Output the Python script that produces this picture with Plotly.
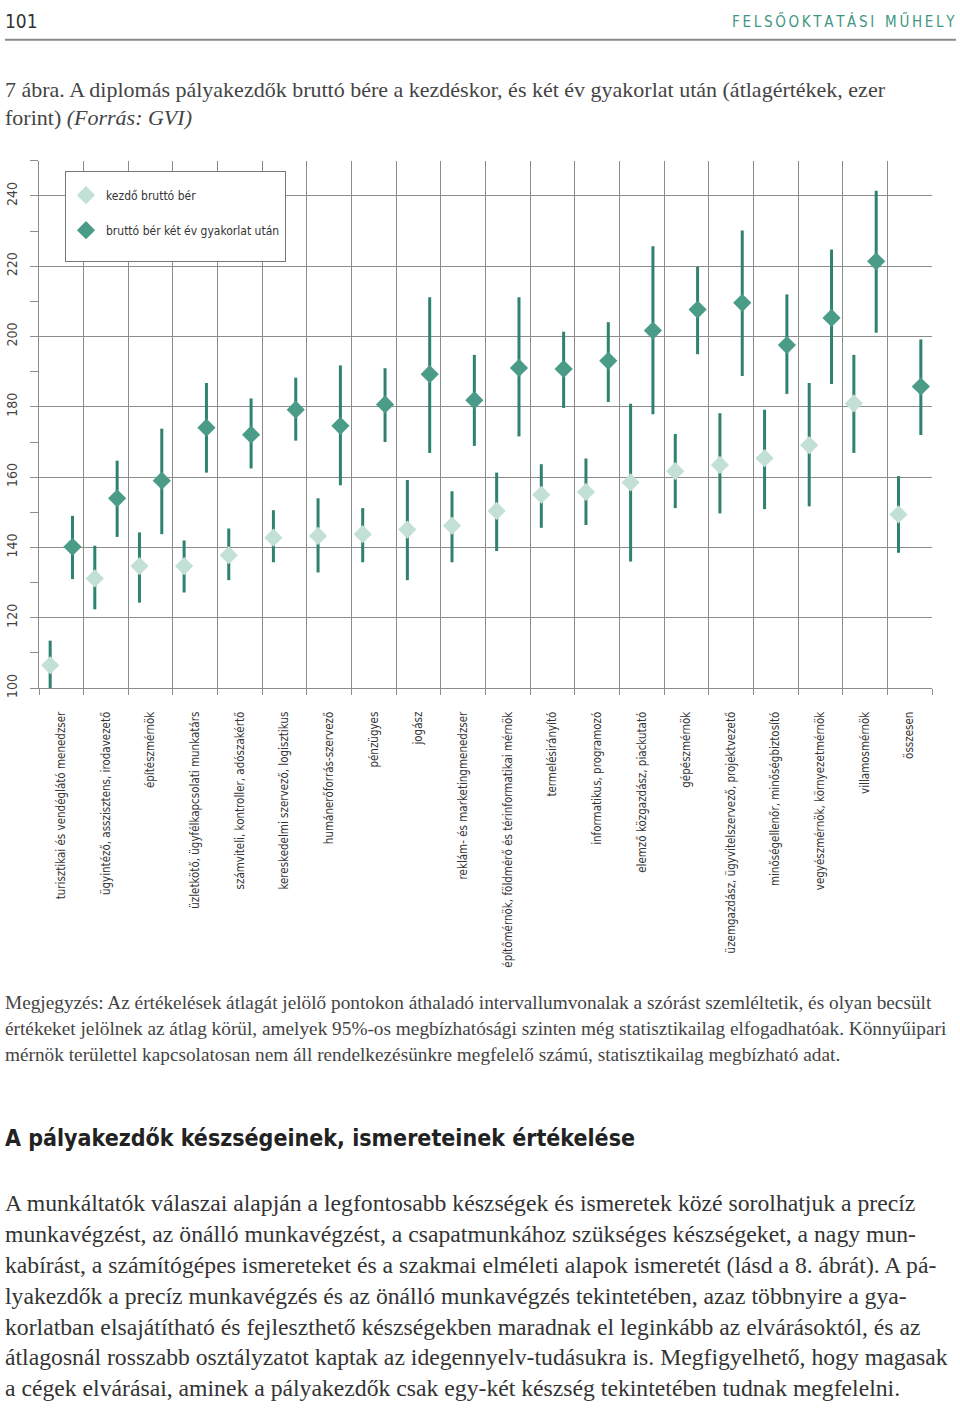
import numpy as np
import plotly.graph_objects as go

# ---------------- data ----------------
categories = [
    "turisztikai és vendéglátó menedzser",
    "ügyintéző, asszisztens, irodavezető",
    "építészmérnök",
    "üzletkötő, ügyfélkapcsolati munkatárs",
    "számviteli, kontroller, adószakértő",
    "kereskedelmi szervező, logisztikus",
    "humánerőforrás-szervező",
    "pénzügyes",
    "jogász",
    "reklám- és marketingmenedzser",
    "építőmérnök, földmérő és térinformatikai mérnök",
    "termelésirányító",
    "informatikus, programozó",
    "elemző közgazdász, piackutató",
    "gépészmérnök",
    "üzemgazdász, ügyvitelszervező, projektvezető",
    "minőségellenőr, minőségbiztosító",
    "vegyészmérnök, környezetmérnök",
    "villamosmérnök",
    "összesen",
]
start_mean = [106.5, 131.2, 134.7, 134.7, 137.8, 142.8, 143.3, 143.8, 145.1, 146.2,
              150.4, 155.0, 155.8, 158.5, 161.7, 163.5, 165.4, 169.1, 181.0, 149.4]
start_high = [113.5, 140.5, 144.3, 142.0, 145.4, 150.6, 154.0, 151.2, 159.2, 156.0,
              161.3, 163.7, 165.3, 180.9, 172.3, 178.2, 179.2, 186.8, 194.8, 160.3]
start_low = [99.0, 122.4, 124.3, 127.2, 130.7, 135.8, 132.9, 135.8, 130.7, 135.8,
             139.0, 145.6, 146.4, 136.0, 151.2, 149.7, 150.9, 151.7, 166.9, 138.5]
exp_mean = [140.2, 154.0, 159.0, 174.1, 172.1, 179.2, 174.6, 180.7, 189.3, 181.9,
            191.1, 190.8, 193.1, 201.7, 207.7, 209.6, 197.6, 205.3, 221.4, 185.8]
exp_high = [149.0, 164.7, 173.8, 186.8, 182.4, 188.3, 191.8, 191.0, 211.2, 194.8,
            211.2, 201.4, 204.1, 225.7, 219.9, 230.2, 212.0, 224.8, 241.5, 199.2]
exp_low = [131.0, 143.0, 143.8, 161.3, 162.5, 170.4, 157.7, 170.0, 166.9, 168.9,
           171.6, 179.7, 181.4, 177.9, 195.0, 188.8, 183.7, 186.5, 201.1, 172.0]
series_names = ["kezdő bruttó bér", "bruttó bér két év gyakorlat után"]
y_ticks = [100, 120, 140, 160, 180, 200, 220, 240]

# ---------------- style ----------------
W, H = 960, 1408
NARROW = "Liberation Sans Narrow, DejaVu Sans Condensed, Arial Narrow, sans-serif"
SERIF = "Liberation Serif, DejaVu Serif, serif"
BAR_COL = "#2f8170"
LIGHT = "#c3e0d7"
DARK = "#4a9c88"
GRID = "#8c8c8c"


def px_x(p):
    return p / W


def px_y(p):
    return 1 - p / H


n = len(categories)
idx = np.arange(n)
sm, sh, sl = map(np.array, (start_mean, start_high, start_low))
em, eh, el = map(np.array, (exp_mean, exp_high, exp_low))

fig = go.Figure()
fig.add_trace(go.Scatter(
    x=idx - 0.25, y=sm, mode="markers", name=series_names[0], legendgroup="a",
    marker=dict(symbol="diamond", size=14, color=LIGHT, line=dict(width=0)),
    error_y=dict(type="data", symmetric=False, array=sh - sm, arrayminus=sm - sl,
                 thickness=3, width=0, color=BAR_COL),
    cliponaxis=False,
))
fig.add_trace(go.Scatter(
    x=idx + 0.25, y=em, mode="markers", name=series_names[1] + "<br> ", legendgroup="b",
    marker=dict(symbol="diamond", size=14, color=DARK, line=dict(width=0)),
    error_y=dict(type="data", symmetric=False, array=eh - em, arrayminus=em - el,
                 thickness=3, width=0, color=BAR_COL),
    cliponaxis=False,
))

fig.update_layout(
    width=W, height=H,
    margin=dict(l=0, r=0, t=0, b=0),
    paper_bgcolor="white", plot_bgcolor="white",
    showlegend=True,
    legend=dict(
        x=px_x(65), y=px_y(172), xanchor="left", yanchor="top",
        bgcolor="white", bordercolor="#777777", borderwidth=1,
        font=dict(family=NARROW, size=12, color="#333333"),
        traceorder="grouped", tracegroupgap=16, valign="top",
        itemwidth=30,
        title=dict(text=" ", font=dict(size=7)),
    ),
    xaxis=dict(
        domain=[px_x(39), px_x(932)],
        range=[-0.5, 19.5], showgrid=False, zeroline=False,
        tickmode="array", tickvals=list(idx), ticktext=categories,
        tickangle=-90, ticks="", ticklabelstandoff=18,
        tickfont=dict(family=NARROW, size=11.5, color="#333333"),
        showline=True, linecolor=GRID, linewidth=1,
        minor=dict(tick0=-0.5, dtick=1, showgrid=True, gridcolor=GRID, gridwidth=1,
                   ticks="outside", ticklen=6, tickcolor=GRID),
    ),
    yaxis=dict(
        domain=[px_y(693), px_y(162)],
        range=[100, 250], zeroline=False,
        tickmode="array", tickvals=y_ticks, showgrid=True, gridcolor=GRID, gridwidth=1,
        ticks="outside", ticklen=8, tickcolor=GRID, tickangle=-90, ticklabelstandoff=7,
        tickfont=dict(family=NARROW, size=14, color="#444444"),
        showline=True, linecolor=GRID, linewidth=1,
        minor=dict(dtick=10, tick0=0, ticks="outside", ticklen=8, tickcolor=GRID, showgrid=False),
    ),
)

ann = []


def text(x, y, s, size, family, color="#3a3a3a", xanchor="left", yanchor="middle"):
    ann.append(dict(x=px_x(x), y=px_y(y), xref="paper", yref="paper", text=s, showarrow=False,
                    xanchor=xanchor, yanchor=yanchor, align="left",
                    font=dict(size=size, family=family, color=color)))


TS = "\u2009"
text(3, 21, "101", 19, NARROW, "#333333")
text(957, 21, TS.join("FELSŐOKTATÁSI") + TS * 4 + TS.join("MŰHELY"), 15, NARROW, "#3f9783", xanchor="right")

text(3, 90, "7 ábra. A diplomás pályakezdők bruttó bére a kezdéskor, és két év gyakorlat után (átlagértékek, ezer", 22, SERIF, "#444444")
text(3, 118, "forint) <i>(Forrás: GVI)</i>", 22, SERIF, "#444444")

note = [
    "Megjegyzés: Az értékelések átlagát jelölő pontokon áthaladó intervallumvonalak a szórást szemléltetik, és olyan becsült",
    "értékeket jelölnek az átlag körül, amelyek 95%-os megbízhatósági szinten még statisztikailag elfogadhatóak. Könnyűipari",
    "mérnök területtel kapcsolatosan nem áll rendelkezésünkre megfelelő számú, statisztikailag megbízható adat.",
]
for k, line in enumerate(note):
    text(3, 1010 + 26 * k, line, 19.3, SERIF, "#444444")

text(3, 1146, "<b>A pályakezdők készségeinek, ismereteinek értékelése</b>", 23, NARROW, "#222222")

para = [
    "A munkáltatók válaszai alapján a legfontosabb készségek és ismeretek közé sorolhatjuk a precíz",
    "munkavégzést, az önálló munkavégzést, a csapatmunkához szükséges készségeket, a nagy mun-",
    "kabírást, a számítógépes ismereteket és a szakmai elméleti alapok ismeretét (lásd a 8. ábrát). A pá-",
    "lyakezdők a precíz munkavégzés és az önálló munkavégzés tekintetében, azaz többnyire a gya-",
    "korlatban elsajátítható és fejleszthető készségekben maradnak el leginkább az elvárásoktól, és az",
    "átlagosnál rosszabb osztályzatot kaptak az idegennyelv-tudásukra is. Megfigyelhető, hogy magasak",
    "a cégek elvárásai, aminek a pályakezdők csak egy-két készség tekintetében tudnak megfelelni.",
]
for k, line in enumerate(para):
    text(3, 1212 + 31 * k, line, 23.7, SERIF, "#333333")

fig.update_layout(
    annotations=ann,
    shapes=[dict(type="line", xref="paper", yref="paper", x0=px_x(5), x1=px_x(956),
                 y0=px_y(40), y1=px_y(40), line=dict(color="#8a8a8a", width=2))],
)

fig.write_html("out.html", config={"displayModeBar": False},
               post_script="document.body.style.margin='0';document.body.style.overflow='hidden';")
